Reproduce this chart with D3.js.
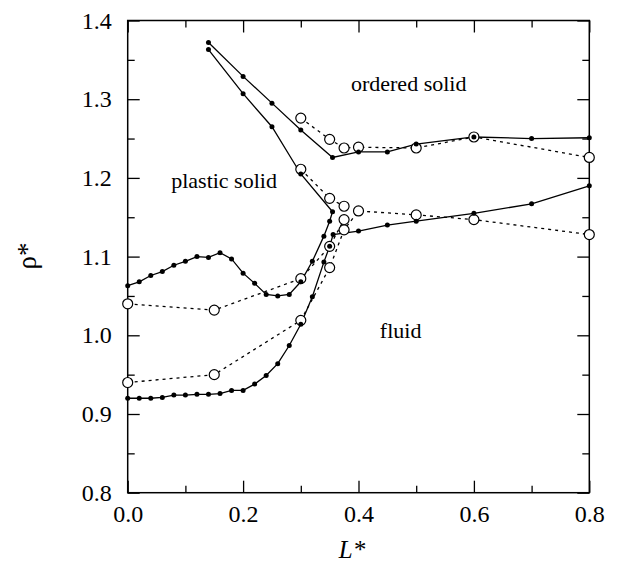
<!DOCTYPE html>
<html>
<head>
  <meta charset='utf-8' />
  <title>Phase diagram</title>
  <style>
    body { margin: 0; padding: 0; background: #fff; }
    svg text { font-family: 'Liberation Serif', 'Times New Roman', serif; fill: #000; }
    .frame { fill: none; stroke: #000; stroke-width: 1.5; }
    .axis path { display: none; }
    .axis line { stroke: #000; stroke-width: 1.3; }
    .axis text { font-size: 24px; }
    .sim { fill: none; stroke: #000; stroke-width: 1.3; }
    .theory { fill: none; stroke: #000; stroke-width: 1.3; stroke-dasharray: 3,4; }
    .dot { fill: #000; }
    .ring { fill: #fff; stroke: #000; stroke-width: 1.2; }
    .region { font-size: 22px; }
  </style>
</head>
<body>
<svg id='chart' width='625' height='571'></svg>
<script src="https://d3js.org/d3.v7.min.js"></script>
<script>
  // simulation data (filled dots, solid lines)
  const orderedUpper = [
    [0.14, 1.372], [0.20, 1.329], [0.25, 1.295], [0.30, 1.261], [0.355, 1.226],
    [0.40, 1.233], [0.45, 1.233], [0.50, 1.243], [0.60, 1.252], [0.70, 1.250], [0.80, 1.251]
  ]
  const plasticBoundary = [
    [0.00, 1.063], [0.02, 1.068], [0.04, 1.076], [0.06, 1.081], [0.08, 1.089], [0.10, 1.094],
    [0.12, 1.100], [0.14, 1.099], [0.16, 1.105], [0.18, 1.097], [0.20, 1.079], [0.22, 1.066],
    [0.24, 1.052], [0.26, 1.050], [0.28, 1.052], [0.30, 1.068], [0.32, 1.094], [0.34, 1.126],
    [0.35, 1.145], [0.355, 1.157], [0.30, 1.205], [0.25, 1.265], [0.20, 1.307], [0.14, 1.363]
  ]
  const fluidBoundary = [
    [0.00, 0.920], [0.02, 0.920], [0.04, 0.920], [0.06, 0.921], [0.08, 0.924], [0.10, 0.924],
    [0.12, 0.925], [0.14, 0.925], [0.16, 0.926], [0.18, 0.930], [0.20, 0.930], [0.22, 0.938],
    [0.24, 0.949], [0.26, 0.964], [0.28, 0.987], [0.30, 1.014], [0.32, 1.049], [0.34, 1.093],
    [0.35, 1.113], [0.356, 1.128], [0.40, 1.1325], [0.45, 1.140], [0.50, 1.145], [0.60, 1.155],
    [0.70, 1.167], [0.80, 1.190]
  ]

  // theory (open circles, dashed lines)
  const orderedTheory = [
    [0.30, 1.276], [0.35, 1.249], [0.375, 1.238], [0.40, 1.239], [0.50, 1.238], [0.60, 1.252], [0.80, 1.226]
  ]
  const plasticOrderedTheory = [[0.30, 1.211], [0.35, 1.174], [0.375, 1.164]]
  const plasticFluidTheory = [[0.00, 1.040], [0.15, 1.032], [0.30, 1.072], [0.35, 1.113], [0.375, 1.147]]
  const fluidTheory = [
    [0.00, 0.940], [0.15, 0.950], [0.30, 1.019], [0.35, 1.086], [0.375, 1.134],
    [0.40, 1.158], [0.50, 1.153], [0.60, 1.147], [0.80, 1.128]
  ]

  const xMajor = [0, 0.2, 0.4, 0.6, 0.8]
  const xMinor = [0.1, 0.3, 0.5, 0.7]
  const yMajor = [0.8, 0.9, 1.0, 1.1, 1.2, 1.3, 1.4]
  const yMinor = [0.85, 0.95, 1.05, 1.15, 1.25, 1.35]

  const regions = [
    { text: 'ordered solid', x: 0.487, y: 1.311 },
    { text: 'plastic solid', x: 0.167, y: 1.187 },
    { text: 'fluid', x: 0.473, y: 0.996 }
  ]

  const plotLeft = 127.7, plotRight = 589.3, plotTop = 20.5, plotBottom = 492.7
  const x = d3.scaleLinear().domain([0, 0.8]).range([plotLeft, plotRight])
  const y = d3.scaleLinear().domain([0.8, 1.4]).range([plotBottom, plotTop])

  const svg = d3.select('#chart')

  // axes with inward ticks on all four sides
  const addAxis = (axis, tx, ty) => svg.append('g')
    .attr('class', 'axis')
    .attr('transform', `translate(${tx},${ty})`)
    .call(axis)

  addAxis(d3.axisBottom(x).tickValues(xMajor).tickSize(-12).tickPadding(12).tickFormat(d3.format('.1f')), 0, plotBottom)
  addAxis(d3.axisBottom(x).tickValues(xMinor).tickSize(-7).tickFormat(''), 0, plotBottom)
  addAxis(d3.axisTop(x).tickValues(xMajor).tickSize(-12).tickFormat(''), 0, plotTop)
  addAxis(d3.axisTop(x).tickValues(xMinor).tickSize(-7).tickFormat(''), 0, plotTop)
  addAxis(d3.axisLeft(y).tickValues(yMajor).tickSize(-12).tickPadding(16).tickFormat(d3.format('.1f')), plotLeft, 0)
  addAxis(d3.axisLeft(y).tickValues(yMinor).tickSize(-7).tickFormat(''), plotLeft, 0)
  addAxis(d3.axisRight(y).tickValues(yMajor).tickSize(-12).tickFormat(''), plotRight, 0)
  addAxis(d3.axisRight(y).tickValues(yMinor).tickSize(-7).tickFormat(''), plotRight, 0)

  svg.append('rect')
    .attr('class', 'frame')
    .attr('x', plotLeft).attr('y', plotTop)
    .attr('width', plotRight - plotLeft).attr('height', plotBottom - plotTop)

  const line = d3.line().x(d => x(d[0])).y(d => y(d[1]))

  const theorySeries = [orderedTheory, plasticOrderedTheory, plasticFluidTheory, fluidTheory]
  const simSeries = [orderedUpper, plasticBoundary, fluidBoundary]

  // dashed theory curves, solid simulation curves
  theorySeries.forEach(series => {
    svg.append('path').datum(series).attr('class', 'theory').attr('d', line)
  })
  simSeries.forEach(series => {
    svg.append('path').datum(series).attr('class', 'sim').attr('d', line)
  })

  theorySeries.forEach(series => {
    svg.append('g').selectAll('circle')
      .data(series)
      .enter()
      .append('circle')
      .attr('class', 'ring')
      .attr('cx', d => x(d[0]))
      .attr('cy', d => y(d[1]))
      .attr('r', 5)
  })

  simSeries.forEach(series => {
    svg.append('g').selectAll('circle')
      .data(series)
      .enter()
      .append('circle')
      .attr('class', 'dot')
      .attr('cx', d => x(d[0]))
      .attr('cy', d => y(d[1]))
      .attr('r', 2.5)
  })

  svg.selectAll('.region')
    .data(regions)
    .enter()
    .append('text')
    .attr('class', 'region')
    .attr('x', d => x(d.x))
    .attr('y', d => y(d.y))
    .attr('text-anchor', 'middle')
    .text(d => d.text)

  // axis titles
  svg.append('text')
    .attr('x', 352).attr('y', 558)
    .attr('text-anchor', 'middle')
    .style('font-size', '25px')
    .style('font-style', 'italic')
    .text('L*')

  svg.append('text')
    .attr('transform', 'translate(36,256) rotate(-90)')
    .attr('text-anchor', 'middle')
    .style('font-size', '27px')
    .text('ρ*')
</script>
</body>
</html>
